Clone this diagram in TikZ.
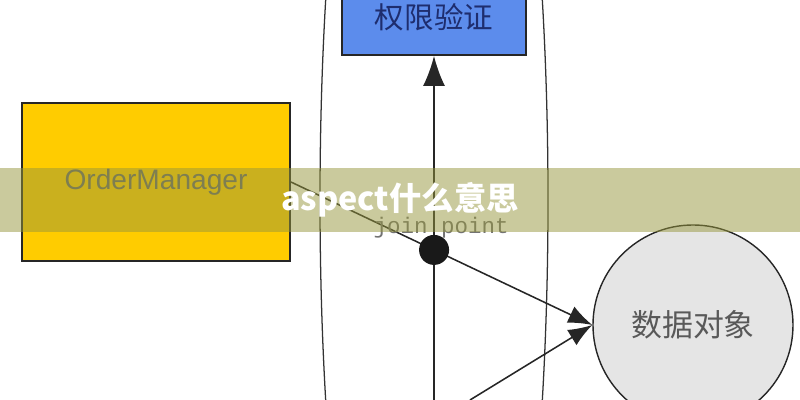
\documentclass[tikz,border=0pt]{standalone}
\usepackage{fontspec}
\setmainfont{Liberation Sans}
\setmonofont{Liberation Mono}
\newfontfamily\cjk{Noto Sans CJK SC}
\usetikzlibrary{arrows.meta}
\definecolor{ordergold}{RGB}{255,204,0}
\definecolor{checkblue}{RGB}{92,140,236}
\definecolor{checkink}{RGB}{30,45,110}
\definecolor{bandolive}{RGB}{150,150,60}

\begin{document}
\begin{tikzpicture}[
  box/.style={draw=black!85, line width=1.3pt, inner sep=0pt},
  link/.style={draw=black!85, line width=1.1pt},
  tip/.style={-{Latex[length=0.6cm,width=0.45cm]}},
  bigtip/.style={-{Latex[length=0.75cm,width=0.55cm]}},
  dot/.style={circle, fill=black!90, minimum size=0.75cm, inner sep=0pt},
]
\useasboundingbox (0,0) rectangle (20,10);
\begin{scope}
\clip (0,0) rectangle (20,10);
% the aspect
\draw[line width=0.9pt, black!80] (10.85,5) ellipse [x radius=2.85, y radius=16];
\node[box, fill=checkblue, minimum width=4.6cm, minimum height=1.9cm,
  text=checkink, font=\cjk\fontsize{21}{25}\selectfont] (check) at (10.85,9.575) {权限验证};
\node[box, fill=ordergold, minimum width=6.7cm, minimum height=3.95cm,
  text=black!60, font=\fontsize{20}{24}\selectfont] (order) at (3.9,5.45) {OrderManager};
\node[box, circle, fill=black!10, line width=1pt, minimum size=5cm,
  text=black!65, font=\cjk\fontsize{22}{26}\selectfont] (data) at (17.325,1.875) {数据对象};
\coordinate (base) at (10.85,0);
\coordinate (feed) at (11.75,0);
\path (order.east) -- (data.west) coordinate[pos=0.475] (jp);
\draw[link, bigtip] (base) -- (check.south);
\draw[link, tip] (order.east) -- (data.west);
\draw[link, tip] (feed) -- (data.west);
\node[dot] (join) at (jp) {};
\node[text=black!55, font=\ttfamily\fontsize{16}{18}\selectfont] (joinlabel) at (11.03,4.3) {join point};
%\node at (10,5) {aspect};
\fill[bandolive, opacity=0.5] (0,4.2) rectangle (20,5.8);
\node[text=white, font=\cjk\bfseries\fontsize{23}{27}\selectfont] (title) at (10,5) {aspect什么意思};
\end{scope}
\end{tikzpicture}
\end{document}
